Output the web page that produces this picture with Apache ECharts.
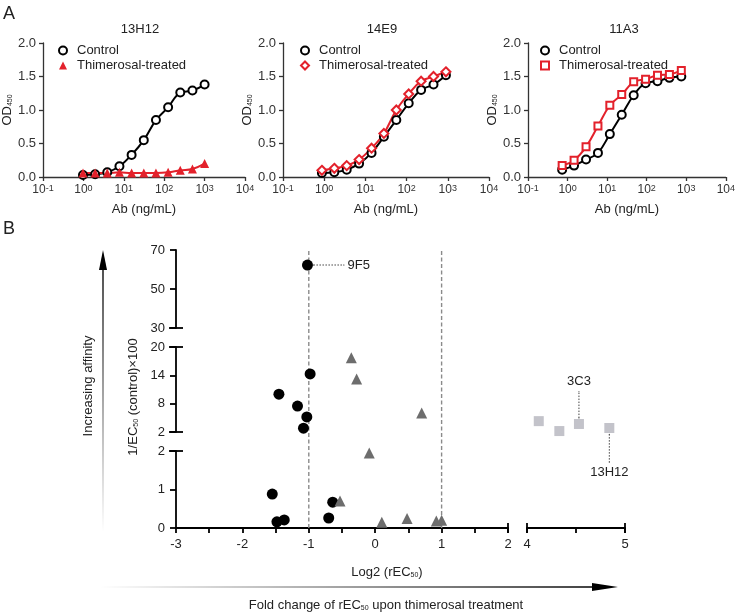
<!DOCTYPE html>
<html>
<head>
<meta charset="utf-8">
<script src="https://cdn.jsdelivr.net/npm/echarts@6/dist/echarts.min.js"></script>
<style>
html, body { margin: 0; padding: 0; background: #fff; }
#chart { width: 738px; height: 613px; }
</style>
</head>
<body>
<div id="chart"></div>
<script>
// ---- Panel A: ELISA titrations (Ab ng/mL vs OD450) ----
const conc13H12 = [0.977, 1.95, 3.9, 7.8, 15.6, 31.25, 62.5, 125, 250, 500, 1000];
const ctrl13H12 = [0.03, 0.04, 0.07, 0.16, 0.33, 0.55, 0.85, 1.04, 1.26, 1.29, 1.38];
const thim13H12 = [0.06, 0.06, 0.06, 0.07, 0.06, 0.06, 0.06, 0.07, 0.10, 0.12, 0.20];

const conc14E9 = [0.88, 1.76, 3.52, 7.03, 14.1, 28.1, 56.3, 112.5, 225, 450, 900];
const ctrl14E9 = [0.06, 0.07, 0.11, 0.20, 0.36, 0.60, 0.85, 1.10, 1.30, 1.38, 1.52];
const thim14E9 = [0.10, 0.13, 0.17, 0.26, 0.43, 0.65, 1.00, 1.24, 1.43, 1.50, 1.57];

const conc11A3 = [0.73, 1.46, 2.93, 5.86, 11.7, 23.4, 46.9, 93.75, 187.5, 375, 750];
const ctrl11A3 = [0.11, 0.17, 0.26, 0.36, 0.64, 0.93, 1.22, 1.40, 1.43, 1.48, 1.50];
const thim11A3 = [0.17, 0.25, 0.45, 0.76, 1.07, 1.23, 1.42, 1.46, 1.52, 1.53, 1.59];

const odTicks = [0, 0.5, 1.0, 1.5, 2.0];

// ---- Panel B: log2(rEC50) vs 1/EC50(control)x100 ----
const circleX = [-1.02, -0.98, -1.45, -1.17, -1.03, -1.08, -1.55, -1.48, -1.37, -0.70, -0.64];
const circleY = [62.3, 14.3, 10.0, 7.5, 5.2, 2.8, 0.88, 0.16, 0.21, 0.26, 0.67];
const triX = [-0.36, -0.28, 0.70, -0.09, -0.53, 0.10, 0.48, 0.92, 1.00];
const triY = [17.7, 13.2, 6.0, 1.95, 0.70, 0.15, 0.25, 0.18, 0.20];
const squareX = [4.12, 4.33, 4.53, 4.84];
const squareY = [4.3, 2.2, 3.7, 2.85];
const cutoffX = [-1, 1];

// labelled antibodies (leader lines)
const lead9F5 = [[-0.93, 62.3], [-0.47, 62.3]];
const lead3C3 = [[4.53, 4.95], [4.53, 10.6]];
const lead13H12 = [[4.84, 1.55], [4.84, -4.4]];

const FONT = '"Liberation Sans", Arial, sans-serif';
const RED = '#e3212b';
const INK = '#222';

const chart = echarts.init(document.getElementById('chart'));

function pairs(xs, ys) { return xs.map((x, i) => [x, ys[i]]); }
function band(xs, ys, lo, hi) { return pairs(xs, ys).filter(p => p[1] >= lo && p[1] < hi); }

function logLabel(v) {
  return '{b|10}{s|' + Math.round(Math.log10(v)) + '}';
}

function xA(gi) {
  return {
    gridIndex: gi, type: 'log', logBase: 10, min: 0.1, max: 10000,
    name: 'Ab (ng/mL)', nameLocation: 'middle', nameGap: 26,
    nameTextStyle: { fontSize: 13, color: INK, fontFamily: FONT },
    axisLine: { onZero: false, lineStyle: { color: '#333', width: 1.3 } },
    axisTick: { length: 4, lineStyle: { color: '#333', width: 1.3 } },
    axisLabel: {
      margin: 7, showMinLabel: true, showMaxLabel: true, formatter: logLabel,
      rich: {
        b: { fontSize: 12, color: '#333', fontFamily: FONT, verticalAlign: 'bottom' },
        s: { fontSize: 9, color: '#333', fontFamily: FONT, verticalAlign: 'top' }
      }
    },
    splitLine: { show: false }, minorTick: { show: false }
  };
}

function yA(gi) {
  return {
    gridIndex: gi, type: 'value', min: odTicks[0], max: odTicks[odTicks.length - 1], interval: 0.5,
    name: '{a|OD}{s|450}', nameLocation: 'middle', nameGap: 28,
    nameTextStyle: {
      rich: {
        a: { fontSize: 13, color: INK, fontFamily: FONT, verticalAlign: 'bottom' },
        s: { fontSize: 7, color: INK, fontFamily: FONT, verticalAlign: 'bottom' }
      }
    },
    axisLine: { show: true, onZero: false, lineStyle: { color: '#333', width: 1.3 } },
    axisTick: { show: true, length: 4, lineStyle: { color: '#333', width: 1.3 } },
    axisLabel: { fontSize: 13, color: '#333', fontFamily: FONT, margin: 7, formatter: v => v.toFixed(1) },
    splitLine: { show: false }
  };
}

function elisa(gi, conc, ctrl, thim, thimSymbol, thimSize) {
  const hollow = thimSymbol.indexOf('empty') === 0;
  return [
    { type: 'line', name: 'fit-c' + gi, xAxisIndex: gi, yAxisIndex: gi, data: pairs(conc, ctrl),
      smooth: 0.4, showSymbol: false, lineStyle: { color: '#000', width: 2 }, z: 2, silent: true },
    { type: 'line', name: 'fit-t' + gi, xAxisIndex: gi, yAxisIndex: gi, data: pairs(conc, thim),
      smooth: 0.4, showSymbol: false, lineStyle: { color: RED, width: 2 }, z: 2, silent: true },
    { type: 'scatter', name: 'Control', xAxisIndex: gi, yAxisIndex: gi, data: pairs(conc, ctrl),
      symbol: 'emptyCircle', symbolSize: 8, itemStyle: { color: '#000', borderWidth: 2, opacity: 1 }, z: 3 },
    { type: 'scatter', name: 'Thimerosal-treated', xAxisIndex: gi, yAxisIndex: gi, data: pairs(conc, thim),
      symbol: thimSymbol, symbolSize: thimSize,
      itemStyle: hollow ? { color: RED, borderWidth: 2, opacity: 1 } : { color: RED, opacity: 1 }, z: 4 }
  ];
}

function legendA(left, icon) {
  return {
    orient: 'vertical', left: left, top: 39, itemWidth: 8, itemHeight: 8, itemGap: 2,
    selectedMode: false, textStyle: { fontSize: 13, color: INK, fontFamily: FONT, padding: [0, 0, 0, 5] },
    data: [
      { name: 'Control', icon: 'emptyCircle', itemStyle: { color: '#000', borderColor: '#000', borderWidth: 2, opacity: 1 } },
      { name: 'Thimerosal-treated', icon: icon, itemStyle: { color: RED, borderColor: RED, borderWidth: icon === 'triangle' ? 0 : 2, opacity: 1 } }
    ]
  };
}

// Panel B axes
const axLine = { onZero: false, lineStyle: { color: '#000', width: 1.8 } };
const axTick = { length: 6, lineStyle: { color: '#000', width: 1.8 } };
const axLabel = { fontSize: 13, color: INK, fontFamily: FONT };

function yB(gi, min, max, interval) {
  return {
    gridIndex: gi, type: 'value', min: min, max: max, interval: interval,
    axisLine: Object.assign({ show: true }, axLine), axisTick: Object.assign({ show: true }, axTick),
    axisLabel: Object.assign({ margin: 11 }, axLabel), splitLine: { show: false }
  };
}
function hidden(gi, min, max) {
  return { gridIndex: gi, type: 'value', min: min, max: max, show: false, splitLine: { show: false } };
}
function xB(gi, min, max, fmt) {
  return {
    gridIndex: gi, type: 'value', min: min, max: max, interval: 0.5,
    axisLine: axLine, axisTick: { length: 5, lineStyle: axTick.lineStyle },
    axisLabel: Object.assign({ margin: 10, showMinLabel: true, showMaxLabel: true, formatter: fmt }, axLabel),
    splitLine: { show: false }
  };
}
const intOnly = v => (Math.abs(v - Math.round(v)) < 1e-6 ? String(Math.round(v)) : '');

function dots(gi, data, symbol, size, color) {
  return { type: 'scatter', xAxisIndex: gi, yAxisIndex: gi, data: data, symbol: symbol,
    symbolSize: size, itemStyle: { color: color, opacity: 1 }, z: 5, clip: false };
}
function caps(gi, data, size) {
  return { type: 'scatter', xAxisIndex: gi, yAxisIndex: gi, data: data, symbol: 'rect',
    symbolSize: size, itemStyle: { color: '#000', opacity: 1 }, silent: true, clip: false, z: 6 };
}
function leader(gi, data, text, pos) {
  const pts = data.map(p => ({ value: p }));
  pts[pts.length - 1].label = { show: true, formatter: text, position: pos, distance: 3,
    fontSize: 13, color: INK, fontFamily: FONT };
  return { type: 'line', xAxisIndex: gi, yAxisIndex: gi, data: pts, showSymbol: true,
    symbol: 'circle', symbolSize: 1,
    lineStyle: { color: '#444', width: 1, type: [1.5, 1.5] }, itemStyle: { color: '#444' },
    silent: true, clip: false, z: 4 };
}

const series = [].concat(
  elisa(0, conc13H12, ctrl13H12, thim13H12, 'triangle', 9),
  elisa(1, conc14E9, ctrl14E9, thim14E9, 'emptyDiamond', 9),
  elisa(2, conc11A3, ctrl11A3, thim11A3, 'emptyRect', 7),
  [
    dots(3, band(circleX, circleY, 30, 1e9), 'circle', 11, '#000'),
    dots(4, band(circleX, circleY, 2, 30), 'circle', 11, '#000'),
    dots(5, band(circleX, circleY, 0, 2), 'circle', 11, '#000'),
    dots(4, band(triX, triY, 2, 30), 'triangle', 11, '#6d6d6d'),
    dots(5, band(triX, triY, 0, 2), 'triangle', 11, '#6d6d6d'),
    dots(6, pairs(squareX, squareY), 'rect', 10, '#c3c3ca'),
    caps(3, [[-3, 30]], [14, 1.8]),
    caps(4, [[-3, 20], [-3, 2]], [14, 1.8]),
    caps(5, [[-3, 2]], [14, 1.8]),
    caps(5, [[2, 0]], [1.8, 10]),
    caps(7, [[4, 0], [5, 0]], [1.8, 10]),
    leader(3, lead9F5, '9F5', 'right'),
    leader(6, lead3C3, '3C3', 'top'),
    leader(6, lead13H12, '13H12', 'bottom')
  ],
  cutoffX.map(x => ({
    type: 'line', xAxisIndex: 8, yAxisIndex: 8, data: [[x, 0], [x, 1]], showSymbol: false,
    lineStyle: { color: '#8a8a8a', width: 1.4, type: [4, 2.5] }, silent: true, z: 1
  }))
);

const vGrad = new echarts.graphic.LinearGradient(0, 1, 0, 0, [
  { offset: 0, color: 'rgba(0,0,0,0)' }, { offset: 0.5, color: 'rgba(0,0,0,0.5)' }, { offset: 1, color: '#000' }]);
const hGrad = new echarts.graphic.LinearGradient(0, 0, 1, 0, [
  { offset: 0, color: 'rgba(0,0,0,0)' }, { offset: 0.5, color: 'rgba(0,0,0,0.5)' }, { offset: 1, color: '#000' }]);

function txt(x, y, text, size, extra) {
  return Object.assign({ type: 'text', x: x, y: y,
    style: { text: text, fontSize: size, fontFamily: FONT, fill: INK, align: 'center', verticalAlign: 'middle' } }, extra || {});
}

const subRich = {
  a: { fontSize: 13, fontFamily: FONT, fill: INK, color: INK, verticalAlign: 'bottom' },
  s: { fontSize: 7, fontFamily: FONT, fill: INK, color: INK, verticalAlign: 'bottom' }
};

chart.setOption({
  animation: false,
  backgroundColor: '#fff',
  textStyle: { fontFamily: FONT },
  grid: [
    { left: 43, top: 43, width: 202, height: 134 },
    { left: 283, top: 43, width: 206, height: 134 },
    { left: 528, top: 43, width: 201, height: 134 },
    { left: 176, top: 250, width: 332, height: 78 },
    { left: 176, top: 347, width: 332, height: 85 },
    { left: 176, top: 451, width: 332, height: 77 },
    { left: 527, top: 347, width: 98, height: 85 },
    { left: 527, top: 451, width: 98, height: 77 },
    { left: 176, top: 250, width: 332, height: 278 }
  ],
  xAxis: [
    xA(0), xA(1), xA(2),
    hidden(3, -3, 2), hidden(4, -3, 2), xB(5, -3, 2, intOnly),
    hidden(6, 4, 5), xB(7, 4, 5, intOnly), hidden(8, -3, 2)
  ],
  yAxis: [
    yA(0), yA(1), yA(2),
    yB(3, 30, 70, 20), yB(4, 2, 20, 6), yB(5, 0, 2, 1),
    hidden(6, 2, 20), hidden(7, 0, 2), hidden(8, 0, 1)
  ],
  legend: [legendA(53, 'triangle'), legendA(295, 'emptyDiamond'), legendA(535, 'emptyRect')],
  series: series,
  graphic: [
    txt(9, 14, 'A', 18),
    txt(9, 229, 'B', 18),
    txt(140, 29, '13H12', 13),
    txt(382, 29, '14E9', 13),
    txt(624, 29, '11A3', 13),
    { type: 'rect', shape: { x: 102.3, y: 262, width: 1.4, height: 270 }, style: { fill: vGrad }, silent: true },
    { type: 'polygon', shape: { points: [[103, 250], [99, 270], [107, 270]] }, style: { fill: '#000' }, silent: true },
    { type: 'rect', shape: { x: 100, y: 586.3, width: 500, height: 1.4 }, style: { fill: hGrad }, silent: true },
    { type: 'polygon', shape: { points: [[618, 587], [592, 583], [592, 591]] }, style: { fill: '#000' }, silent: true },
    txt(88, 386, 'Increasing affinity', 13, { rotation: Math.PI / 2 }),
    { type: 'text', x: 133, y: 397, rotation: Math.PI / 2,
      style: { text: '{a|1/EC}{s|50}{a| (control)×100}', rich: subRich, align: 'center', verticalAlign: 'middle' } },
    { type: 'text', x: 387, y: 572,
      style: { text: '{a|Log2 (rEC}{s|50}{a|)}', rich: subRich, align: 'center', verticalAlign: 'middle' } },
    { type: 'text', x: 386, y: 605,
      style: { text: '{a|Fold change of rEC}{s|50}{a| upon thimerosal treatment}', rich: subRich, align: 'center', verticalAlign: 'middle' } }
  ]
});
</script>
</body>
</html>
